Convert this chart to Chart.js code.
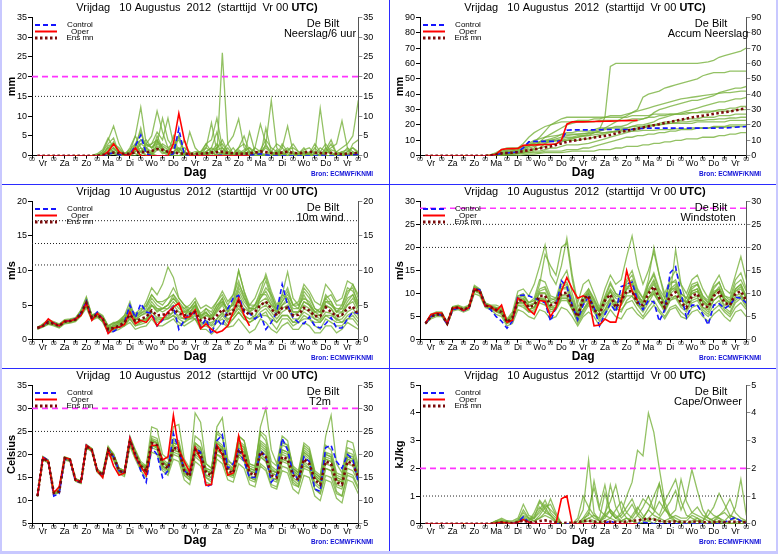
<!DOCTYPE html>
<html>
<head>
<meta charset="utf-8">
<script src="https://cdn.jsdelivr.net/npm/chart.js@4.4.0/dist/chart.umd.min.js"></script>
<style>
  body { margin: 0; background: #fff; }
  #wrap { position: relative; width: 778px; height: 554px; overflow: hidden; background: #fff; }
  .panel { position: absolute; width: 388px; height: 184px; }
  .sep { position: absolute; background: #2b2bff; z-index: 5; }
  .edge { position: absolute; background: #c8c8ff; z-index: 5; }
</style>
</head>
<body>
<div id="wrap">
  <div class="panel" style="left:0;top:0"><canvas id="p1"></canvas></div>
  <div class="panel" style="left:388px;top:0"><canvas id="p2"></canvas></div>
  <div class="panel" style="left:0;top:184px"><canvas id="p3"></canvas></div>
  <div class="panel" style="left:388px;top:184px"><canvas id="p4"></canvas></div>
  <div class="panel" style="left:0;top:368px"><canvas id="p5"></canvas></div>
  <div class="panel" style="left:388px;top:368px"><canvas id="p6"></canvas></div>
  <div class="sep" style="left:389px;top:0;width:1px;height:551px"></div>
  <div class="sep" style="left:0;top:184px;width:778px;height:1px"></div>
  <div class="sep" style="left:0;top:368px;width:778px;height:1px"></div>
  <div class="edge" style="left:0;top:0;width:2px;height:554px"></div>
  <div class="edge" style="left:776px;top:0;width:2px;height:554px"></div>
  <div class="edge" style="left:0;top:551px;width:778px;height:3px"></div>
</div>
<script>
const FONT = "'Liberation Sans', Arial, sans-serif";
Chart.defaults.font.family = FONT;

// forecast steps are 6-hourly, first value at +6h; oper only runs to +240h
const STEP_H = 6;
const DAYS = ['Vr', 'Za', 'Zo', 'Ma', 'Di', 'Wo', 'Do', 'Vr', 'Za', 'Zo', 'Ma', 'Di', 'Wo', 'Do', 'Vr'];
const TITLE_A = 'Vrijdag   10 Augustus  2012  (starttijd  Vr 00 ';
const TITLE_B = 'UTC)';

// ---- Neerslag/6 uur (mm) ----
const rain6Oper = [
  0,0,0,0,0,0,0,0,0,0,0,0,
  0,1,3,1,0.2,0.1,2,0,0,0,0,0,
  0,3,10.7,4,0,0,0,0,0,0,0,0,
  0,0,0,0];
const rain6Control = [
  0,0,0,0,0,0,0,0,0,0,0,0,
  0,0.3,0.8,0.2,0.2,0.3,2.5,5.2,0.5,0,0,0,
  0,0.5,6.8,0.3,0,0,0,0,0,0,0.1,0,
  0,0,0,0.1,0.3,0.5,0.2,0,0,0,0,0,
  0,0,0,0,0.1,0,0,0,0,0,0.2,0.3];
const rain6Mean = [
  0,0,0,0,0,0,0,0,0,0,0,0,
  0.2,0.5,0.8,0.6,0.5,0.5,0.8,1.0,0.8,1.2,1.7,1.5,
  1.0,0.8,0.6,0.5,0.4,0.5,0.5,0.6,0.8,0.9,1.0,0.7,
  0.6,0.5,0.5,0.6,0.8,1.1,0.9,0.7,0.6,0.8,1.0,0.7,
  0.6,0.8,1.0,0.8,0.7,0.6,0.7,0.5,0.4,0.5,0.6,0.7];
const rain6Members = [
  [0,0,0,0,0,0,0,0,0,0,0,0, 0.5,2,1,0,0.5,1.5,3,1,0,0.5,5,2, 0.5,0,0,1,0.5,0,0,2,1,0,26,3, 0.5,0,1,0,0,0.5,2,0.5,0,0,1,3, 1,0,0,0.5,0,0,0,0.5,1,0,0,0.5],
  [0,0,0,0,0,0,0,0,0,0,0,0.3, 1,3,4.5,0.5,0,0,2,7,1,0,1.5,3, 2,0.5,1,4,0.5,0,0,0.5,0,1.5,2,0.5, 0,1,0.5,0,0,0,3,14,2,0.5,0,1, 0.5,2,0,0,0,1,3,0.5,0,0,1,0],
  [0,0,0,0,0,0,0,0,0,0,0,0, 0,2.5,3,2,0.5,1,5,12.3,3,2,4,1, 0,1,2,0.5,0,0,0.5,3,1,0,0,0, 0.5,2,5,1,0,0.5,0,0,1.5,0,0,0, 0,0.5,0,2,0.5,0,0,0,0,1,2,0.5],
  [0,0,0,0,0,0,0,0,0,0,0,0.5, 1.5,4.5,2,0.5,0,0.5,2,1,3,5,11.3,6, 2,3,4,1,0,0,0.5,1,2,6,1,0, 0,0.5,1,2,0,0,0,0,1,0.5,0,0, 0.5,0,0,0,0,2,0.5,0,0,0,3,4],
  [0,0,0,0,0,0,0,0,0,0,0,0, 0,1,0.5,0,0,0,1.5,3,4,2,3,9.5, 4,2,5,0.5,0,0,0,0,1,3,0.5,0, 0,1,0,0.5,2,8,3,0.5,0,0,1,0.5, 0,0,1,0.5,12,2,0,0,0,0.5,0,0],
  [0,0,0,0,0,0,0,0,0,0,0,0, 0,0.5,1.5,1,0,0,1,2,1,0.5,2,1, 0.5,5,1,0,0,0.5,1,3,4,9.5,2,0.5, 0,0.5,0,0,2,1,0,0,0,3,1,0, 0,0,0.5,0,0,0,0,1,2,3,5,14],
  [0,0,0,0,0,0,0,0,0,0,0,0, 1,4,7.5,3,0.5,0,0,1,2,0.5,0,0, 0,0,0,0,6,2,0.5,0,0,0,1,3, 5,9.3,2,0.5,0,0,0,1,3,2,0.5,0, 0,1,0,0,0.5,0,0,0.5,0,0,0,1],
  [0,0,0,0,0,0,0,0,0,0,0,0, 0,0,0.5,0,0,1,0.5,0,2,3,6,4, 9.5,3,1,0,0,0,0.5,0.5,0,0,0,1, 0,0,0.5,1,0,0,0,0,0,2,7.5,1, 0,0,0,0,0,1,2,3,8.8,2,0,0.5],
  [0,0,0,0,0,0,0,0,0,0,0,0, 0.5,1,2,0.5,0,2,5,2,0,1,2,0.5, 1,0,0,0,0.5,1,1,2,8.3,1,0,0.5, 2,0,0,6,1,0,0,0.5,0,1,0,0, 0.5,0,0,0,0,1.5,4,0.5,0,0,0.5,1],
  [0,0,0,0,0,0,0,0,0,0,0,0, 0,0.5,1,0.5,0,0,3,6,1.5,0,3,2, 0.5,0,5,1,0,0,0,0.5,1,0,0.5,2, 0,0.5,0,0,0,0,7,1,0.5,0,0,0.5, 0,0,0.5,3,1,0,0,0,0.5,0,0,0],
  [0,0,0,0,0,0,0,0,0,0,0,0, 0,1,2,1,0,0.5,1,3,2,1,2.5,1.5, 1,0.5,1.5,2,1,0,0.5,1,2,1,0.5,1, 0,1.5,0.5,1,0.5,1,2.5,1,0.5,1,2,0.5, 0.5,1,0.5,1,0,0.5,1.5,1,0.5,1,2,1],
  [0,0,0,0,0,0,0,0,0,0,0,0, 0.5,1.5,3.5,1,0,0,1.5,4,2.5,3,4,2, 0.5,1,2,0.5,0,0,0,1,0.5,2,4,1, 0.5,2,3,1,0.5,1.5,4,2,1,0.5,0,0, 0.5,1.5,2,0.5,1,3,1,0,0.5,2,1,0.5],
  [0,0,0,0,0,0,0,0,0,0,0,0.2, 0.5,2,3,1.5,0.5,1,2.5,4,3,2,3.5,2.5, 1.5,2,1,0.5,0,0.5,1,0,1.5,2,3,1, 0,0.5,1.5,2,1,0,0.5,1,0,0.5,1.5,2, 1,0.5,0,0.5,2,1,0.5,0,1,1.5,0.5,1]
];
const rain6Pink = [20];
const rain6Dots = [15];

// ---- Accum Neerslag (mm) ----
const accOper = [
  0,0,0,0,0,0,0,0,0,0,0,0,
  0.2,1,4,4.5,4.6,4.7,6.7,7,7,7.2,7.3,7.4,
  7.5,10,20.5,22,22,22,22.1,22.2,22.3,22.4,22.5,22.6,
  22.7,22.8,22.9,23];
const accControl = [
  0,0,0,0,0,0,0,0,0,0,0,0,
  0,0.5,1.5,1.8,2,2.5,5,9,9.3,9.3,9.3,9.3,
  9.3,9.8,16.5,16.8,16.8,16.8,16.8,16.8,16.9,17,17,17,
  17,17,17.1,17.5,17.8,17.9,17.9,17.9,17.9,17.9,17.9,17.9,
  17.9,17.9,17.9,17.9,17.9,17.9,18,18,18.2,18.5,18.8,19];
const accMean = [
  0,0,0,0,0,0,0,0,0,0,0,0,
  0.3,0.8,1.5,1.8,2,2.3,3,3.6,4.2,4.8,5.4,6,
  7,8,9,9.6,10.2,10.8,11.3,11.8,12.4,12.9,13.5,14.5,
  15.5,16.2,17,17.7,18.4,19.1,19.8,20.5,21.3,22,22.7,23.5,
  24.2,24.9,25.5,26,26.6,27.2,27.8,28.3,28.8,29.4,30.2,31];
const accMembers = [
  [0,0,0,0,0,0,0,0,0,0,0,0, 0,0.5,2,3,3,3.5,5,6,7,8,9,10, 11,12,13,13.5,14,14,15,16,17,25,58,60, 60,60,60,60,60,60,60,60,60,60,60,60, 60,60,60,60.5,61,62,64,65,66,67,68,70],
  [0,0,0,0,0,0,0,0,0,0,0,0, 0,1,3,4,4,5,8,12,15,17,19,20, 21,22,22,22,23,23,23,24,24,25,26,26, 26,27,28,30,38,40,41,42,44,45,46,47, 48,49,50,52,53,54,54,54,55,55,55,55],
  [0,0,0,0,0,0,0,0,0,0,0,0, 0,0,1,1.5,2,2,3,4,4,5,8,10, 10,11,12,12,13,13,13,15,16,17,18,19, 19,20,22,23,24,25,28,30,31,32,33,34, 35,36,36,37,38,39,41,42,43,44,44,45],
  [0,0,0,0,0,0,0,0,0,0,0,0, 0.5,2,4,5,5,5,6,7,8,9,10,10, 10,10,10,10,10,11,11,12,13,14,15,16, 17,18,19,20,20,21,22,24,25,26,27,28, 29,30,31,32,33,34,35,35,36,37,37,38],
  [0,0,0,0,0,0,0,0,0,0,0,0, 0,0,0.5,1,1,1.5,2,3,5,9,12,14, 16,18,20,21,22,22,22,22,23,23,23,23, 23,23,24,24,24,25,25,26,26,27,27,27, 28,28,28,29,29,29,30,30,31,31,32,32],
  [0,0,0,0,0,0,0,0,0,0,0,0, 0,0.5,1,1,1,1.5,2,2,3,3,4,5, 5,6,7,7,7,7.5,8,9,10,11,12,13, 14,15,16,17,18,19,20,21,22,22,23,23, 24,24,24,25,25,25,26,26,26,27,27,27],
  [0,0,0,0,0,0,0,0,0,0,0,0, 0,0.5,1.5,2,3,3,4,6,8,9,10,11, 12,14,15,15,16,16,16,17,18,18,18,18, 18,18,19,19,19,20,20,20,21,21,21,21, 21,21,22,22,22,22,22,22,23,23,23,23],
  [0,0,0,0,0,0,0,0,0,0,0,0, 0,0,0,0.5,1,1,1.5,2,2,2,3,3, 3,3,4,4,4,5,5,6,7,8,9,10, 11,12,12,13,13,14,14,15,15,16,16,17, 17,17,18,18,18,19,19,19,20,20,20,20],
  [0,0,0,0,0,0,0,0,0,0,0,0, 0,1,2,2.5,3,4,5,7,9,12,16,20, 22,24,25,25,25,25,25,25,25,25,25,25, 25,25,26,26,26,26,27,27,27,27,27,27, 27,28,28,28,28,29,29,29,29,30,30,30],
  [0,0,0,0,0,0,0,0,0,0,0,0, 0,0,0,0,0,0,0.5,1,1,1.5,2,2, 2,2,2.5,3,3,3,3,3,4,4,4,5, 5,6,6,6,7,7,8,8,9,9,10,10, 11,11,11,12,12,12,13,13,14,14,15,15],
  [0,0,0,0,0,0,0,0,0,0,0,0, 0,0.5,1,1.5,2,2.5,3.5,5,6,7,8,9, 9.5,10,11,11.5,12,12.5,13,13.5,14,15,15.5,16, 16.5,17,17.5,18,18.5,19,19.5,20,20.5,21,21.5,22, 22,22.5,23,23,23.5,23.5,24,24,24.5,24.5,25,25],
  [0,0,0,0,0,0,0,0,0,0,0,0, 0,0,0.5,1,1.5,2,2.5,3,4,5,6,7, 8,9,10,11,12,13,14,15,16,18,20,22, 24,26,28,29,30,31,32,33,34,35,36,37, 37.5,38,38.5,39,39.5,40,40.5,41,41,41.5,42,42],
  [0,0,0,0,0,0,0,0,0,0,0,0, 0.5,1.5,3,3.5,4,4.5,6,8,10,11,12,12.5, 13,13.5,14,14,14,14.5,14.5,15,15,15,15.5,15.5, 15.5,16,16,16,16.5,16.5,16.5,17,17,17,17.5,17.5, 17.5,18,18,18,18,18.5,18.5,18.5,19,19,19,19]
];
const accPink = [];
const accDots = [];

// ---- 10m wind (m/s) ----
const windOper = [
  1.7,2.0,3.0,2.4,2.0,2.7,2.7,3.0,3.5,5.3,2.8,3.8,
  3.0,0.9,1.7,1.8,2.2,4.0,2.3,2.8,2.5,3.5,2.0,3.0,
  4.0,4.7,5.3,3.2,3.3,4.3,1.6,2.3,1.5,1.0,1.3,2.0,
  4.0,6.0,3.5,2.0];
const windControl = [
  1.7,2.0,2.7,2.4,2.0,2.6,2.8,3.0,3.8,5.6,3.0,4.0,
  3.0,1.0,1.2,1.7,2.5,5.0,3.2,5.2,4.0,3.8,2.0,2.8,
  4.0,4.8,1.5,2.8,3.8,3.8,1.8,3.0,0.8,3.0,2.0,4.5,
  6.0,6.4,4.0,3.8,3.0,3.7,1.5,2.5,4.0,8.0,5.0,3.2,
  2.5,2.3,3.3,2.0,1.7,2.3,3.2,1.7,1.7,3.0,4.0,3.8];
const windMean = [
  1.7,2.0,2.5,2.3,2.0,2.6,2.7,2.9,3.8,5.3,3.2,3.6,
  3.0,1.5,1.7,2.0,2.5,3.6,2.7,3.0,3.3,4.2,3.5,3.6,
  3.8,4.4,3.8,3.5,3.7,4.0,2.8,3.2,2.8,3.5,4.4,3.4,
  4.2,5.5,4.2,3.6,4.0,5.0,5.5,4.5,3.5,4.6,4.6,3.5,
  3.6,4.6,4.2,3.4,3.4,4.7,4.0,3.4,3.6,4.5,4.8,3.6];
const windMembers = [
  [1.5,2.2,2.8,2.5,2.2,2.9,3.0,3.2,4.2,6.0,3.5,3.8, 3.2,1.2,2.2,2.8,3.5,4.8,3.5,4.2,5.0,6.5,5.5,5.0, 6.0,7.5,6.0,5.0,4.5,5.5,3.5,4.0,3.0,4.5,6.0,4.0, 5.5,8.0,6.5,4.0,3.0,6.5,8.5,6.0,4.0,5.5,7.0,5.0, 4.5,6.5,5.0,3.5,3.0,5.5,5.5,4.0,4.5,6.5,8.0,6.0],
  [1.8,1.9,2.3,2.1,1.8,2.4,2.5,2.7,3.5,5.0,3.0,3.4, 2.8,1.8,1.5,1.8,2.0,3.0,2.0,2.5,2.8,3.5,2.5,2.8, 3.0,3.5,2.5,2.0,2.5,3.0,1.8,2.0,1.5,2.5,3.0,2.0, 3.0,4.0,3.0,2.5,3.0,3.5,4.0,2.5,1.5,3.0,3.0,2.0, 2.5,3.0,3.0,2.0,1.5,3.0,2.5,2.0,2.0,3.0,3.0,2.0],
  [1.6,2.1,2.6,2.4,2.1,2.7,2.9,3.1,4.0,5.6,3.4,4.0, 3.5,2.0,2.5,2.5,3.0,4.5,3.5,4.0,5.5,7.5,6.5,8.0, 10.5,9.0,6.0,5.0,4.0,5.0,3.0,4.5,4.0,5.5,6.5,5.0, 6.5,10.0,7.0,5.0,5.0,6.0,7.5,6.5,4.5,6.0,7.5,5.0, 5.0,7.5,6.5,4.5,4.0,6.5,5.5,4.0,5.0,7.0,7.5,5.0],
  [1.9,2.0,2.4,2.2,1.9,2.5,2.6,2.8,3.6,5.2,3.0,3.4, 2.5,1.0,1.2,1.5,2.0,2.5,1.5,1.8,2.0,3.0,2.0,2.0, 2.5,3.0,2.0,2.5,3.5,3.0,1.5,1.5,0.8,1.5,2.5,1.8, 2.0,3.0,2.0,1.0,1.5,3.0,2.5,1.5,1.0,2.0,2.5,1.5, 1.5,2.5,2.0,1.0,1.0,2.0,2.0,1.0,1.5,2.5,2.0,1.5],
  [1.7,2.3,2.9,2.6,2.3,2.8,2.8,3.0,4.3,6.2,3.5,3.5, 3.0,1.8,2.0,2.5,3.5,5.5,3.0,2.8,3.0,5.0,4.0,4.5, 5.0,6.5,5.0,3.5,4.5,5.5,3.0,3.5,3.5,5.0,6.0,4.0, 5.5,10.0,7.0,4.5,5.0,7.0,9.5,7.0,5.0,6.5,6.0,4.0, 4.0,5.5,5.0,4.0,3.5,5.0,4.5,3.0,3.5,5.0,6.0,4.5],
  [1.5,1.8,2.2,2.0,1.7,2.3,2.4,2.6,3.4,4.6,2.8,3.2, 2.6,1.4,1.6,2.0,2.6,4.0,2.8,3.5,4.0,5.5,4.5,4.0, 4.5,5.0,4.0,4.0,4.5,5.0,3.5,4.0,3.0,4.0,5.0,3.5, 4.0,5.5,4.5,4.0,5.0,6.5,6.5,5.0,4.5,6.5,9.8,6.0, 5.0,6.0,5.5,4.0,4.5,6.0,5.0,4.5,4.5,6.0,6.5,4.5],
  [1.6,2.0,2.4,2.3,2.1,2.6,2.7,2.9,3.7,5.0,3.3,3.7, 3.2,1.6,1.8,2.2,2.8,3.5,2.5,2.8,3.0,3.5,3.0,3.0, 3.5,4.0,3.5,3.0,3.0,3.5,2.5,2.5,2.5,3.0,4.0,3.0, 3.5,4.5,3.5,3.0,3.0,4.0,4.5,3.5,2.5,3.5,3.5,2.5, 3.0,4.0,3.5,3.0,2.5,3.5,3.5,3.0,2.5,3.5,4.0,3.0],
  [1.8,2.2,2.7,2.4,2.0,2.7,2.8,3.0,4.0,5.8,3.6,3.9, 3.4,1.9,2.3,2.6,3.2,4.5,3.8,4.5,4.8,6.5,5.5,5.5, 6.0,6.5,5.5,4.5,5.0,6.0,4.5,5.0,4.5,5.5,7.0,5.5, 6.5,8.5,6.0,5.0,6.0,8.0,9.0,6.5,4.5,5.5,6.5,5.0, 5.5,8.0,7.0,5.5,5.0,8.0,7.0,5.5,6.0,8.5,8.0,6.5],
  [1.6,1.9,2.3,2.2,1.9,2.5,2.6,2.8,3.5,4.8,3.0,3.3, 2.7,1.2,1.4,1.8,2.2,3.0,2.0,2.2,2.5,3.5,2.8,3.0, 3.0,3.5,3.0,2.5,3.0,3.0,2.0,2.5,2.0,2.5,3.5,2.5, 3.0,4.0,3.0,2.5,3.0,3.5,3.5,3.0,2.5,3.5,3.5,2.5, 2.5,3.5,3.0,2.5,2.5,3.5,3.0,2.5,2.5,3.0,3.5,2.5],
  [1.7,2.1,2.6,2.4,2.1,2.6,2.7,3.0,3.9,5.5,3.4,3.8, 3.0,1.5,1.8,2.2,2.8,4.0,3.0,3.5,3.8,5.0,4.5,4.5, 4.5,5.5,4.5,4.0,3.5,4.5,3.0,3.5,3.0,4.5,5.5,4.0, 4.5,6.5,5.0,4.0,4.5,5.0,5.5,4.5,3.5,4.5,5.0,3.5, 4.0,5.0,4.5,3.5,3.5,5.0,4.5,3.5,4.0,5.0,5.5,4.0],
  [1.7,2.1,2.5,2.2,1.9,2.5,2.6,2.8,3.6,5.1,3.1,3.5, 2.9,1.7,2.0,2.4,3.0,4.2,3.2,3.8,4.5,6.0,5.0,4.5, 5.0,6.0,5.0,4.5,4.0,5.0,3.8,4.5,3.5,5.0,5.5,4.5, 5.0,7.0,5.5,4.5,4.5,6.0,7.0,5.5,4.0,5.0,5.5,4.0, 4.0,5.5,5.0,4.0,4.0,5.5,5.0,4.0,4.0,5.5,6.5,5.0],
  [1.6,2.0,2.6,2.3,2.0,2.6,2.7,2.9,3.9,5.4,3.3,3.6, 3.1,1.3,1.5,1.9,2.4,3.2,2.4,2.6,2.8,4.0,3.2,3.2, 3.2,4.0,3.2,3.0,3.2,3.8,2.2,2.8,2.2,3.0,3.8,2.8, 3.5,5.0,3.5,3.0,3.5,4.5,5.0,4.0,3.0,4.0,4.5,3.0, 3.0,4.5,4.0,3.0,2.8,4.0,3.8,2.8,3.0,4.0,4.5,3.5],
  [1.8,2.1,2.6,2.3,2.1,2.6,2.8,3.0,3.7,5.3,3.3,3.7, 3.3,2.0,2.4,2.7,3.0,4.2,3.3,3.8,4.2,5.0,4.2,4.5, 5.0,6.0,5.0,4.2,3.8,4.8,3.3,3.8,3.2,4.2,5.2,4.5, 5.0,7.5,6.0,4.5,4.5,5.5,6.0,5.0,3.8,5.0,6.0,4.5, 4.5,7.0,6.0,4.5,4.0,6.0,6.5,5.0,5.0,7.5,7.0,5.5]
];
const windPink = [];
const windDots = [10.8, 13.9, 17.2];

// ---- Windstoten (m/s) ----
const gustOper = [
  3.6,5.5,5.8,5.8,3.5,6.8,7.0,6.3,7.0,11.0,10.5,7.3,
  7.3,6.2,7.5,3.8,4.2,9.0,8.3,6.5,5.5,8.5,8.3,5.0,
  7.0,10.5,13.5,11.0,9.0,9.5,9.0,3.0,3.2,4.5,3.8,3.8,
  8.0,15.0,10.5,8.5];
const gustControl = [
  3.5,5.0,5.5,5.3,3.3,6.5,6.8,6.3,6.8,11.2,10.8,7.3,
  6.5,5.0,4.0,2.5,4.0,9.5,9.7,9.5,9.0,8.5,8.0,4.0,
  7.0,12.8,11.5,7.5,4.3,7.5,9.3,7.0,3.0,5.5,7.8,6.0,
  11.5,12.0,12.5,8.5,6.5,8.5,8.2,4.0,6.5,14.5,15.8,10.0,
  4.8,7.5,7.5,5.5,3.2,7.5,7.8,6.8,7.5,9.2,9.0,8.0];
const gustMean = [
  3.5,5.0,5.5,5.5,3.5,6.8,7.0,6.5,7.0,11.0,10.5,7.5,
  7.0,6.5,6.0,3.8,4.8,8.5,8.5,7.0,7.5,9.5,9.5,7.5,
  8.0,10.0,10.2,7.0,5.0,9.0,9.5,6.5,5.5,8.5,9.8,7.0,
  8.5,10.5,10.5,8.0,7.5,10.0,11.5,9.0,7.0,9.5,10.3,8.0,
  7.0,9.5,10.0,7.5,7.0,9.5,10.3,8.0,7.5,10.0,10.5,8.5];
const gustMembers = [
  [3.5,5.5,6.0,6.0,3.8,7.2,7.5,7.0,7.5,11.8,11.0,8.0, 7.5,7.5,7.0,4.5,6.0,10.5,11.0,9.5,12.0,16.0,20.5,14.0, 12.0,16.0,22.0,14.0,8.0,12.0,13.0,10.0,7.0,11.0,14.0,12.0, 13.0,18.0,22.5,16.0,12.0,15.0,19.0,14.0,10.0,13.0,15.0,12.0, 10.0,13.0,14.0,11.0,9.0,12.0,14.0,11.0,10.0,14.0,18.0,13.0],
  [3.5,4.5,5.0,5.0,3.2,6.2,6.5,6.0,6.5,10.0,9.5,7.0, 6.5,5.5,5.0,3.0,3.5,6.5,6.0,5.0,4.5,6.5,6.0,4.5, 5.0,7.0,6.5,5.0,3.0,5.0,6.0,5.0,3.0,4.5,6.5,5.0, 4.5,6.5,7.0,5.5,4.5,6.0,7.5,6.0,4.5,6.5,7.0,5.0, 4.5,6.0,6.5,5.0,4.0,5.5,6.5,5.0,4.0,6.0,6.5,5.0],
  [3.6,5.2,5.8,5.6,3.6,7.0,7.2,6.7,7.3,11.5,10.8,7.8, 7.2,6.8,6.5,4.2,5.5,9.5,10.0,8.0,9.0,13.0,12.5,9.5, 9.0,13.0,15.0,10.0,6.0,8.5,11.0,9.0,6.5,9.0,12.0,10.0, 9.5,13.0,15.0,11.0,9.0,13.0,20.0,14.0,9.0,12.0,13.0,10.0, 9.0,12.0,12.5,9.5,8.0,11.0,12.5,9.5,8.5,12.0,13.0,10.5],
  [3.4,4.8,5.3,5.3,3.4,6.5,6.8,6.3,6.8,10.5,10.0,7.2, 6.8,6.0,5.5,3.5,4.0,7.5,7.0,6.0,6.0,8.0,7.5,6.0, 6.5,8.5,8.5,6.5,4.0,6.0,8.0,6.5,4.5,6.0,8.0,7.0, 6.0,8.5,9.5,7.5,6.0,8.0,10.0,8.0,6.0,8.5,9.0,7.0, 6.0,8.0,8.5,6.5,5.5,7.5,8.5,6.5,5.5,8.0,9.0,7.0],
  [3.5,5.1,5.6,5.5,3.5,6.9,7.1,6.6,7.1,11.2,10.6,7.6, 7.0,7.0,6.5,4.0,5.0,9.0,9.5,8.0,8.5,12.0,18.5,16.0, 14.0,20.0,21.0,13.0,7.0,9.5,11.0,8.5,6.0,8.5,11.0,9.5, 9.0,12.0,13.0,10.0,8.0,12.0,14.0,10.5,8.0,11.0,12.0,9.5, 8.0,11.0,12.0,9.0,8.0,10.0,11.5,9.0,8.0,11.0,12.0,9.0],
  [3.5,4.9,5.4,5.4,3.5,6.7,6.9,6.4,6.9,10.8,10.3,7.4, 6.9,6.3,5.8,3.7,4.5,8.0,8.0,6.5,7.0,9.0,9.0,7.0, 7.0,9.5,10.0,7.5,4.5,6.5,8.5,7.0,5.0,6.5,9.0,8.0, 8.0,11.0,12.5,9.5,7.0,9.0,11.0,8.5,7.0,9.5,19.5,12.0, 8.0,10.0,10.5,8.0,7.0,9.5,10.5,8.5,7.0,9.5,10.0,8.0],
  [3.6,5.0,5.5,5.6,3.6,6.8,7.0,6.5,7.0,11.0,10.4,7.5, 7.1,6.6,6.2,3.9,4.9,8.6,8.7,7.2,7.8,10.0,10.0,8.0, 8.0,11.0,11.5,8.5,5.5,7.5,10.0,8.0,6.0,8.0,10.5,9.0, 8.5,11.0,12.0,9.5,8.0,10.5,12.5,9.5,8.0,11.0,11.0,9.0, 8.0,10.5,11.0,8.5,7.5,10.0,11.0,8.5,7.5,10.5,11.5,9.0],
  [3.4,5.0,5.6,5.5,3.4,6.7,7.0,6.5,7.0,11.0,10.6,7.5, 7.0,6.4,5.8,3.6,4.5,8.0,8.0,6.5,7.0,9.0,8.5,6.5, 6.5,9.0,9.0,6.5,3.5,5.5,7.5,6.0,4.0,5.5,7.5,6.5, 6.5,8.0,8.5,6.5,5.0,7.0,8.5,6.5,5.0,7.0,7.5,6.0, 5.0,7.0,7.5,6.0,5.0,6.5,7.5,6.0,5.0,7.0,8.0,6.5],
  [3.5,5.3,5.7,5.7,3.7,7.1,7.3,6.8,7.4,11.5,10.9,7.9, 7.4,7.0,6.8,4.3,5.5,9.5,9.5,8.0,8.5,11.0,11.5,9.0, 8.5,12.0,12.5,9.0,6.0,8.5,10.5,8.5,6.5,9.5,12.5,10.0, 9.0,12.5,14.0,10.5,9.0,12.0,14.5,11.0,9.0,12.5,12.5,10.0, 9.0,11.5,12.0,9.5,8.5,11.5,12.5,9.5,9.0,13.0,14.5,11.0],
  [3.5,4.9,5.4,5.4,3.4,6.6,6.9,6.4,6.9,10.7,10.2,7.3, 6.8,6.2,5.6,3.5,4.3,7.5,7.5,6.0,6.5,8.5,8.5,6.5, 7.0,9.0,9.0,7.0,4.5,6.5,8.0,6.5,5.0,6.5,8.5,7.5, 7.5,10.0,10.5,8.0,6.5,9.0,10.0,8.0,6.5,9.0,9.5,7.5, 6.5,9.0,9.5,7.0,6.0,8.5,9.5,7.0,6.0,8.5,9.5,7.5],
  [3.6,5.2,5.7,5.6,3.6,7.0,7.2,6.6,7.2,11.3,10.7,7.7, 7.2,6.8,6.4,4.2,5.2,9.0,9.0,7.5,8.0,10.5,11.0,8.5, 9.0,11.5,12.0,8.0,5.5,8.0,10.0,7.5,6.0,9.0,10.5,8.0, 9.0,11.5,12.0,9.0,8.5,11.0,13.0,10.0,8.0,10.5,11.5,9.0, 8.0,10.5,11.0,8.5,7.5,10.5,11.0,9.0,8.0,11.0,12.0,9.5],
  [3.4,4.9,5.4,5.4,3.4,6.6,6.8,6.3,6.8,10.6,10.2,7.3, 6.7,6.2,5.7,3.6,4.6,8.0,8.0,6.6,7.0,8.8,8.8,7.0, 7.5,9.5,9.5,6.5,4.5,8.0,8.5,6.0,5.0,7.5,9.0,6.5, 7.5,9.5,9.5,7.5,7.0,9.0,10.5,8.5,6.5,8.5,9.5,7.5, 6.5,8.5,9.0,7.0,6.5,8.5,9.5,7.5,7.0,9.0,9.5,8.0],
  [3.5,5.1,5.6,5.6,3.6,6.9,7.1,6.6,7.1,11.1,10.6,7.6, 7.1,6.6,6.2,4.0,5.0,8.8,8.8,7.2,7.8,10.2,10.2,8.0, 8.5,11.0,11.0,7.5,5.0,9.5,10.0,7.0,6.0,9.0,10.5,7.5, 9.0,11.0,11.0,8.5,8.0,10.5,12.0,9.5,7.5,10.0,11.0,8.5, 7.5,10.0,10.5,8.0,7.5,10.0,11.0,8.5,8.0,10.5,11.0,9.0]
];
const gustPink = [28.5];
const gustDots = [20, 25];

// ---- T2m (Celsius) ----
const t2mOper = [
  11.0,19.3,18.5,11.7,13.0,19.3,19.0,14.5,14.0,22.0,21.0,16.5,
  15.0,21.0,17.5,15.5,16.0,23.5,19.5,17.5,15.5,22.0,22.0,18.8,
  19.5,28.5,21.0,18.5,16.2,21.5,19.0,13.3,13.5,22.0,20.0,15.5,
  16.0,24.0,19.0,17.0];
const t2mControl = [
  11.0,19.5,18.7,11.0,11.5,19.0,18.8,14.2,14.0,22.0,21.0,16.5,
  15.2,21.0,19.5,16.5,16.0,23.5,20.0,16.5,14.0,21.5,20.0,15.0,
  16.5,24.5,21.0,16.5,15.5,21.5,20.5,13.0,13.5,23.0,24.3,17.0,
  18.0,21.0,18.5,15.0,15.0,20.8,19.5,14.0,15.5,23.5,21.0,16.0,
  14.5,19.5,18.5,12.5,12.0,21.5,22.0,18.5,17.0,20.0,19.0,14.0];
const t2mMean = [
  11.0,19.2,18.5,11.7,12.0,19.2,18.8,14.5,14.0,21.8,21.0,16.5,
  15.5,21.0,19.5,16.5,16.0,23.0,20.0,17.5,16.5,22.5,22.0,18.0,
  17.0,21.5,21.0,16.5,15.3,21.0,20.0,16.0,15.5,21.5,20.5,16.5,
  16.0,21.0,20.0,16.0,15.5,20.5,19.5,15.5,15.0,19.5,19.0,15.5,
  14.5,19.0,18.0,14.5,13.5,18.5,18.0,14.0,13.5,18.5,18.0,15.0];
const t2mMembers = [
  [11.0,19.5,18.8,12.0,12.3,19.5,19.0,14.8,14.3,22.2,21.3,16.8, 16.0,21.8,20.0,17.0,16.5,24.0,21.0,18.5,17.5,24.0,23.5,19.0, 18.0,23.5,23.0,18.0,16.5,24.0,23.0,18.0,17.0,24.5,23.5,18.5, 18.0,24.0,23.0,18.0,17.5,25.0,24.0,18.5,17.5,23.0,22.0,17.5, 16.5,22.5,21.5,16.5,15.5,22.0,21.0,16.0,15.5,21.5,21.0,17.0],
  [11.0,18.8,18.2,11.3,11.7,18.8,18.5,14.2,13.7,21.4,20.6,16.1, 15.0,20.0,18.8,15.8,15.2,21.8,19.0,16.5,15.0,20.5,20.0,16.5, 15.5,19.0,18.5,14.5,13.5,18.5,17.5,14.0,13.5,19.0,18.0,14.5, 14.0,18.0,17.0,13.5,13.0,17.5,16.5,13.0,12.5,16.5,16.0,12.5, 11.5,15.5,15.0,11.0,10.0,14.5,14.0,10.5,9.5,14.5,14.0,11.5],
  [11.2,19.4,18.6,11.8,12.2,19.3,18.9,14.6,14.1,22.0,21.2,16.7, 15.8,21.5,20.0,17.0,16.5,23.5,20.5,18.0,17.5,26.0,25.5,20.0, 19.0,26.0,26.5,19.0,17.0,29.0,27.0,18.0,17.0,25.0,24.0,18.0, 17.0,23.0,22.0,17.5,17.0,26.0,30.0,21.0,18.0,24.0,23.0,17.0, 16.0,22.0,21.0,16.0,15.0,24.0,28.5,18.0,16.0,23.0,22.5,17.5],
  [10.8,19.0,18.4,11.5,11.9,19.0,18.7,14.4,13.9,21.6,20.8,16.4, 15.3,20.5,19.2,16.2,15.8,22.5,19.8,17.0,16.0,22.0,21.5,17.5, 16.5,21.0,20.5,16.0,15.0,20.5,19.5,15.5,15.0,21.0,20.0,16.0, 15.5,20.0,19.0,15.0,14.5,19.5,18.5,14.5,14.0,18.5,18.0,14.5, 13.5,18.0,17.0,13.5,12.5,17.0,16.5,13.0,12.5,17.0,16.5,14.0],
  [11.1,19.3,18.6,11.7,12.0,19.2,18.9,14.5,14.0,21.9,21.1,16.6, 15.6,21.2,19.6,16.6,16.2,23.2,20.3,17.8,17.0,23.5,23.0,18.5, 17.5,22.5,22.0,17.0,16.0,22.5,21.5,17.0,16.5,26.0,28.0,19.0, 17.5,22.0,21.0,17.0,16.5,22.5,21.5,16.5,16.0,21.0,20.5,16.5, 15.5,21.0,20.0,15.5,14.5,20.0,19.5,15.0,14.5,20.0,19.5,16.0],
  [11.0,19.1,18.4,11.6,11.9,19.1,18.7,14.4,13.9,21.7,20.9,16.4, 15.4,20.8,19.4,16.4,15.8,22.8,19.8,17.2,16.2,22.0,21.5,17.5, 16.5,21.5,21.0,16.5,15.5,21.5,20.5,16.5,16.0,22.0,21.0,17.0, 16.5,22.5,21.5,17.0,16.5,23.0,22.0,17.0,16.0,22.0,21.5,17.0, 16.0,21.5,20.5,16.0,15.0,20.5,20.0,15.5,15.0,20.5,20.0,16.0],
  [11.0,19.2,18.5,11.7,12.0,19.2,18.8,14.5,14.0,21.8,21.0,16.5, 15.5,21.0,19.5,16.5,16.0,22.5,19.5,17.0,16.0,21.5,21.0,17.0, 16.0,20.0,19.5,15.5,14.5,19.5,18.5,15.0,14.5,20.0,19.0,15.5, 15.0,19.5,18.5,14.5,14.0,18.0,17.0,13.5,13.0,17.5,17.0,13.5, 13.0,17.5,17.0,12.5,11.5,15.5,15.0,11.5,11.0,15.5,15.0,12.5],
  [11.0,19.6,18.8,11.9,12.2,19.5,19.1,14.7,14.2,22.1,21.2,16.7, 15.7,21.5,20.2,17.0,16.5,23.5,20.8,18.0,17.0,23.0,22.5,18.5, 17.5,23.0,22.5,17.5,16.0,22.0,21.0,16.5,16.0,22.5,21.5,17.0, 17.0,24.0,23.0,18.0,17.5,24.5,23.0,17.5,16.5,22.5,22.0,17.0, 16.0,20.5,19.5,15.0,14.0,19.0,18.5,14.5,14.0,19.0,18.5,15.0],
  [10.9,19.0,18.3,11.5,11.8,18.9,18.6,14.3,13.8,21.5,20.8,16.3, 15.2,20.6,19.0,16.0,15.6,22.3,19.5,17.0,16.0,22.0,21.5,17.5, 16.5,20.5,20.0,15.5,14.5,20.5,19.5,15.0,14.0,20.0,19.5,15.5, 15.5,20.0,19.0,15.0,14.5,20.0,19.0,15.0,14.5,19.0,18.5,14.0, 13.0,17.0,16.5,12.5,11.5,17.0,16.5,12.0,11.0,16.0,15.5,13.0],
  [11.0,19.3,18.6,11.8,12.1,19.3,18.9,14.6,14.1,21.9,21.1,16.6, 15.6,21.2,19.8,16.8,16.3,23.0,20.3,17.6,16.8,22.8,22.3,18.3, 17.3,22.0,21.5,17.0,15.8,21.5,20.5,16.5,15.8,22.0,21.0,17.0, 16.5,21.5,20.5,16.5,16.0,21.0,20.0,16.0,15.5,20.0,19.5,16.0, 15.0,19.5,18.5,15.0,14.0,19.0,18.5,14.5,14.0,19.0,18.5,15.5],
  [11.0,19.4,18.7,11.8,12.1,19.4,19.0,14.6,14.1,22.0,21.2,16.6, 15.6,21.4,19.9,16.9,16.4,23.6,20.6,18.0,17.0,23.2,22.6,18.6, 17.5,22.5,22.0,17.0,15.8,22.5,21.5,17.0,16.5,23.0,22.0,17.5, 17.0,22.5,21.5,17.0,16.5,22.0,21.0,16.5,16.0,21.0,20.5,16.5, 15.5,20.5,19.5,15.5,14.5,20.0,19.5,15.0,14.5,19.5,19.0,15.5],
  [11.0,19.1,18.4,11.6,11.9,19.1,18.7,14.4,13.9,21.7,20.9,16.4, 15.4,20.8,19.3,16.3,15.8,22.6,19.6,17.2,16.2,22.0,21.4,17.6, 16.6,21.0,20.5,16.0,15.0,20.0,19.0,15.5,15.0,21.0,20.0,16.0, 15.5,20.5,19.5,15.5,15.0,19.5,18.5,15.0,14.5,19.0,18.5,15.0, 14.0,18.5,17.5,14.0,13.0,18.0,17.5,13.5,13.0,18.0,17.5,14.5],
  [11.1,19.3,18.6,11.8,12.1,19.3,18.9,14.6,14.1,21.9,21.1,16.6, 15.6,21.3,19.8,16.7,16.2,23.3,20.4,17.8,16.8,23.0,22.5,18.2, 17.2,22.5,22.0,17.0,15.8,21.5,20.5,16.5,16.0,22.5,21.5,17.0, 16.5,21.5,20.5,16.5,16.0,21.5,20.5,16.0,15.5,20.5,20.0,16.0, 15.0,20.0,19.0,15.0,14.0,19.5,19.0,14.5,14.0,19.5,19.0,15.5]
];
const t2mPink = [30];
const t2mDots = [25];

// ---- Cape/Onweer (kJ/kg) ----
const capeOper = [
  0,0,0,0,0,0,0,0,0,0,0,0,
  0,0.02,0.05,0.02,0,0.05,0.15,0.05,0,0,0,0,
  0,0.9,1.0,0,0,0,0,0,0,0,0,0,
  0,0,0,0];
const capeControl = [
  0,0,0,0,0,0,0,0,0,0,0,0,
  0,0,0.05,0,0,0.05,0.25,0.05,0,0,0,0,
  0,0,0,0,0,0,0,0,0,0.02,0.1,0.02,
  0,0,0,0,0.05,0.02,0,0,0,0,0,0,
  0,0,0,0,0,0,0,0.05,0.15,0.22,0.1,0];
const capeMean = [
  0,0,0,0,0,0,0,0,0,0,0,0,
  0,0.02,0.05,0.03,0.02,0.05,0.12,0.05,0.05,0.1,0.12,0.08,
  0.05,0.02,0.03,0.03,0.05,0.1,0.1,0.08,0.06,0.08,0.07,0.06,
  0.06,0.08,0.1,0.12,0.15,0.18,0.15,0.1,0.08,0.07,0.08,0.06,
  0.06,0.07,0.08,0.06,0.05,0.06,0.07,0.05,0.06,0.07,0.05,0.05];
const capeMembers = [
  [0,0,0,0,0,0,0,0,0,0,0,0, 0,0.05,0.1,0.05,0,0.1,0.3,0.2,0.1,0.2,0.4,0.3, 0.1,0,0,0,0,0.1,0.2,0.1,0,0.3,0.5,0.2, 0.4,1.0,1.5,2.65,2.45,4.0,3.3,2.0,0.8,0.3,0.1,0, 0,0.1,0.2,0,0,0,0.1,0,0,0,0,0],
  [0,0,0,0,0,0,0,0,0,0,0,0, 0,0,0.05,0.1,0.1,0.2,0.7,0.3,0.2,0.5,0.85,0.4, 0.2,0,0,0,0.1,0.5,2.3,0.4,0.1,0.2,0.5,0.3, 0.1,0.2,0.1,0,0.2,0.5,1.0,1.45,0.6,0.2,0.1,0, 0,0,0,0,0,0.1,0.2,0,0,0,0,0],
  [0,0,0,0,0,0,0,0,0,0,0,0, 0,0.1,0.15,0.05,0,0.1,0.2,0.1,0.3,0.6,0.4,0.9, 0.4,0,0,0,0,0.2,0.3,1.55,0.6,1.4,0.4,0.2, 0.1,0,0.3,0.6,0.3,0.1,0,0.2,0.5,0.8,1.2,0.5, 1.0,1.95,1.2,0.5,0.2,0.1,0,0,0.1,0.2,0.1,0],
  [0,0,0,0,0,0,0,0,0,0,0,0, 0,0.05,0.1,0.1,0.05,0.15,0.4,0.2,0.1,0.3,0.6,0.3, 0.1,0,0,0,0,0.1,0.2,0.3,0.1,0.4,0.8,1.4, 0.5,0.2,0.1,0.3,0.6,1.0,0.5,0.3,0.8,1.2,1.6,0.8, 0.3,0.2,0.1,0.1,0.3,0.6,1.1,0.7,0.3,0.2,0.1,0.1],
  [0,0,0,0,0,0,0,0,0,0,0,0, 0,0.1,0.2,0.1,0,0.1,0.5,0.2,0.2,0.4,0.7,0.5, 0.3,0,0,0,0,0.1,0.4,0.2,0.1,0.3,0.2,0.5, 0.8,0.4,0.2,0.5,0.9,0.7,0.5,1.45,0.6,0.3,0.5,1.6, 0.8,0.4,0.3,0.2,0.1,0.2,0.3,0.4,0.2,0.6,1.6,0.3],
  [0,0,0,0,0,0,0,0,0,0,0,0, 0,0.05,0.1,0.05,0,0.1,0.25,0.15,0.2,0.8,0.5,0.3, 0.1,0,0,0,0.2,1.0,0.6,0.3,0.2,1.1,0.4,0.2, 0.3,0.6,0.9,0.4,0.2,0.5,0.3,0.2,0.1,0.2,0.3,0.2, 0.2,0.4,0.6,0.3,0.2,0.1,0.3,0.5,0.9,0.4,0.2,0.1],
  [0,0,0,0,0,0,0,0,0,0,0,0, 0,0.05,0.05,0,0,0.05,0.15,0.1,0.1,0.2,0.3,0.2, 0.05,0,0,0,0,0.05,0.1,0.05,0,0.1,0.2,0.1, 0.1,0.2,0.1,0,0.05,0.1,0.2,0.1,0.05,0.1,0.1,0.05, 0,0.05,0.1,0.05,0,0.05,0.1,0.05,0,0.05,0.1,0],
  [0,0,0,0,0,0,0,0,0,0,0,0, 0,0.1,0.05,0,0,0.1,0.2,0.1,0.4,0.85,0.6,0.7, 0.3,0,0,0,0,0.2,0.5,1.3,0.5,0.3,1.4,0.6, 0.2,0.4,0.7,0.3,0.1,0.2,0.4,0.8,0.5,0.3,0.2,0.1, 0.1,0.3,0.2,0.1,0.5,0.3,0.2,0.1,0.3,0.2,0.1,0.05]
];
const capePink = [2];
const capeDots = [1];

// ---- styles ----
const MEMBER_COLOR = 'rgba(116,176,56,0.78)';
const CONTROL_STYLE = { borderColor: '#1515ff', borderDash: [5, 3], borderWidth: 1.6 };
const OPER_STYLE = { borderColor: '#ff0000', borderDash: [], borderWidth: 1.6 };
const MEAN_STYLE = { borderColor: '#7a0a0a', borderDash: [2.5, 2.5], borderWidth: 2.6 };

function pts(arr) {
  return arr.map((v, i) => ({ x: (i + 1) * STEP_H, y: v }));
}
function level(v) {
  return [{ x: 0, y: v }, { x: 360, y: v }];
}

function buildDatasets(p) {
  const ds = [];
  ds.push(Object.assign({ label: 'Ens mn', data: pts(p.mean), order: 1 }, MEAN_STYLE));
  ds.push(Object.assign({ label: 'Oper', data: pts(p.oper), order: 2 }, OPER_STYLE));
  ds.push(Object.assign({ label: 'Control', data: pts(p.control), order: 3 }, CONTROL_STYLE));
  p.pink.forEach(v => ds.push({ data: level(v), borderColor: '#ff33ff', borderDash: [6, 4], borderWidth: 1.6, order: 4 }));
  p.dots.forEach(v => ds.push({ data: level(v), borderColor: '#222', borderDash: [1, 2], borderWidth: 1, order: 4 }));
  p.members.forEach(m => ds.push({ data: pts(m), borderColor: MEMBER_COLOR, borderWidth: 1.3, order: 5 }));
  return ds;
}

const decor = {
  id: 'decor',
  afterDraw(chart, args, opts) {
    const c = chart.ctx;
    c.save();
    c.fillStyle = '#000';
    c.textBaseline = 'middle';
    // title, with UTC) in bold
    c.font = '11px ' + FONT;
    const w1 = c.measureText(TITLE_A).width;
    c.font = 'bold 11px ' + FONT;
    const w2 = c.measureText(TITLE_B).width;
    const x0 = 197 - (w1 + w2) / 2;
    c.textAlign = 'left';
    c.font = '11px ' + FONT;
    c.fillText(TITLE_A, x0, 7.5);
    c.font = 'bold 11px ' + FONT;
    c.fillText(TITLE_B, x0 + w1, 7.5);
    // station and parameter
    c.textAlign = 'center';
    c.font = '11px ' + FONT;
    c.fillText('De Bilt', 323, 24);
    c.fillText(opts.name, 320, 34);
    // legend top left
    const rows = [25, 31.5, 38];
    const items = ['Control', 'Oper', 'Ens mn'].map(l => chart.data.datasets.find(d => d.label === l));
    items.forEach((d, i) => {
      c.strokeStyle = d.borderColor;
      c.lineWidth = d.borderWidth + 0.4;
      c.setLineDash(d.borderDash);
      c.beginPath();
      c.moveTo(35, rows[i]);
      c.lineTo(57, rows[i]);
      c.stroke();
      c.setLineDash([]);
      c.font = '8px ' + FONT;
      c.fillStyle = '#000';
      c.fillText(d.label, 80, rows[i]);
    });
    // source
    c.textAlign = 'left';
    c.fillStyle = '#1010d8';
    c.font = 'bold 6.5px ' + FONT;
    c.fillText('Bron: ECMWF/KNMI', 311, 174);
    c.restore();
  }
};

function makePanel(id, p) {
  new Chart(document.getElementById(id), {
    type: 'line',
    data: { datasets: buildDatasets(p) },
    options: {
      responsive: true,
      maintainAspectRatio: false,
      animation: false,
      events: [],
      parsing: false,
      normalized: true,
      layout: { padding: { top: 17.3, left: 0, right: 0, bottom: 0 } },
      elements: { point: { radius: 0 }, line: { tension: 0, fill: false } },
      plugins: {
        legend: { display: false },
        tooltip: { enabled: false },
        decor: { name: p.name }
      },
      scales: {
        x: {
          type: 'linear', min: 0, max: 360,
          afterFit: s => { s.height = 28.3; },
          grid: { drawOnChartArea: false, color: '#000', tickLength: 3 },
          border: { color: '#000' },
          ticks: {
            stepSize: 12, autoSkip: false, maxRotation: 0, minRotation: 0, padding: -2, color: '#000',
            callback: v => (v % 24 === 0 ? '00' : DAYS[(v - 12) / 24]),
            font: ctx => (ctx.tick && ctx.tick.value % 24 === 0)
              ? { size: 5, lineHeight: 1.2 }
              : { size: 8.5, lineHeight: 1.75 }
          },
          title: { display: true, text: 'Dag', color: '#000', font: { size: 12, weight: 'bold' }, padding: { top: 0, bottom: 3.8 } }
        },
        y: {
          min: p.min, max: p.max,
          afterFit: s => { s.width = 32; },
          grid: { drawOnChartArea: false, color: '#000', tickLength: 4 },
          border: { color: '#000' },
          ticks: { stepSize: p.step, padding: 1, color: '#000', font: { size: 9 } },
          title: { display: true, text: p.unit, color: '#000', font: { size: 11, weight: 'bold' }, padding: { top: 5.4, bottom: 0 } }
        },
        y2: {
          position: 'right', min: p.min, max: p.max,
          afterFit: s => { s.width = 29.7; },
          grid: { drawOnChartArea: false, color: '#888', tickLength: 4 },
          border: { color: '#555' },
          ticks: { stepSize: p.step, padding: 1, color: '#000', font: { size: 9 } }
        }
      }
    },
    plugins: [decor]
  });
}

makePanel('p1', { name: 'Neerslag/6 uur', unit: 'mm', min: 0, max: 35, step: 5,
  members: rain6Members, control: rain6Control, oper: rain6Oper, mean: rain6Mean, pink: rain6Pink, dots: rain6Dots });
makePanel('p2', { name: 'Accum Neerslag', unit: 'mm', min: 0, max: 90, step: 10,
  members: accMembers, control: accControl, oper: accOper, mean: accMean, pink: accPink, dots: accDots });
makePanel('p3', { name: '10m wind', unit: 'm/s', min: 0, max: 20, step: 5,
  members: windMembers, control: windControl, oper: windOper, mean: windMean, pink: windPink, dots: windDots });
makePanel('p4', { name: 'Windstoten', unit: 'm/s', min: 0, max: 30, step: 5,
  members: gustMembers, control: gustControl, oper: gustOper, mean: gustMean, pink: gustPink, dots: gustDots });
makePanel('p5', { name: 'T2m', unit: 'Celsius', min: 5, max: 35, step: 5,
  members: t2mMembers, control: t2mControl, oper: t2mOper, mean: t2mMean, pink: t2mPink, dots: t2mDots });
makePanel('p6', { name: 'Cape/Onweer', unit: 'kJ/kg', min: 0, max: 5, step: 1,
  members: capeMembers, control: capeControl, oper: capeOper, mean: capeMean, pink: capePink, dots: capeDots });
</script>
</body>
</html>
